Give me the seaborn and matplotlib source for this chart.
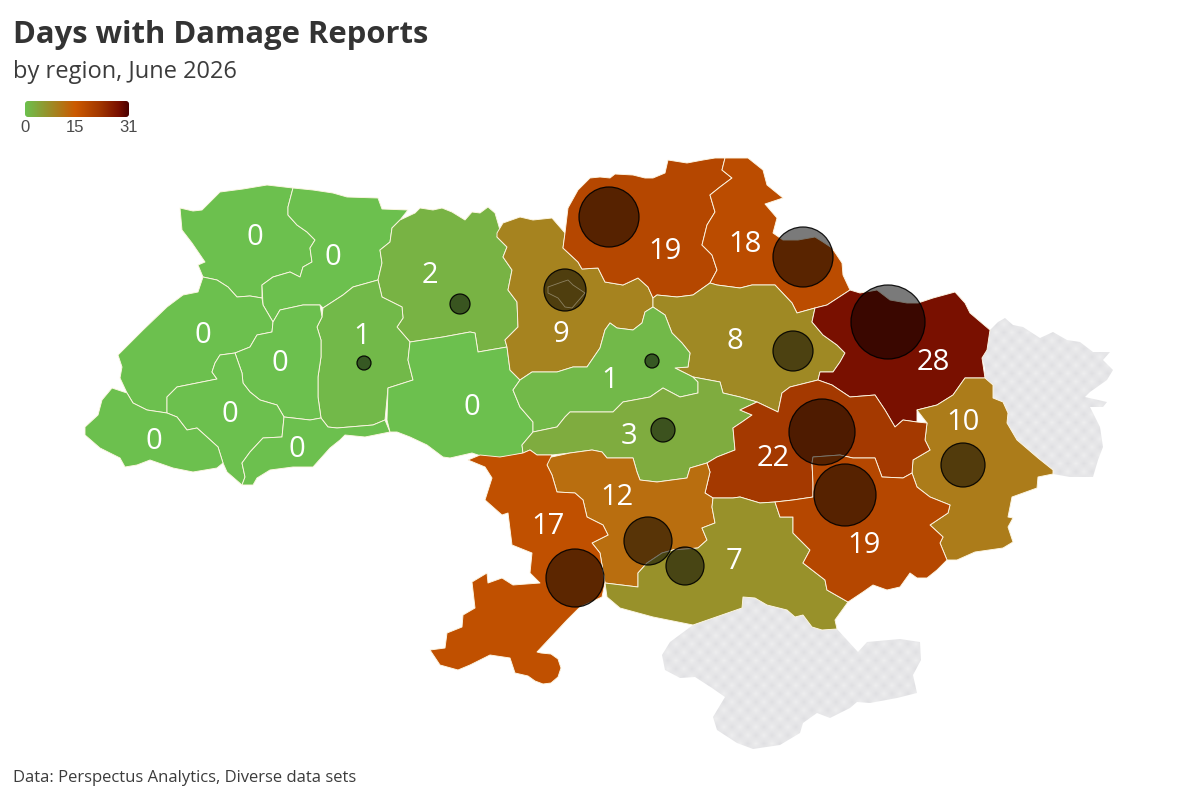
import matplotlib.pyplot as plt
import numpy as np
import pandas as pd
import seaborn as sns
from matplotlib.collections import PolyCollection
from matplotlib.colors import LinearSegmentedColormap, Normalize
from matplotlib.patches import FancyBboxPatch, Polygon

# region data, same order everywhere
region_names = [
    "Volyn", "Rivne", "Zhytomyr", "Lviv", "Khmelnytskyi", "Ternopil",
    "Ivano-Frankivsk", "Zakarpattia", "Chernivtsi", "Vinnytsia", "Kyiv",
    "Chernihiv", "Sumy", "Poltava", "Cherkasy", "Kirovohrad", "Kharkiv",
    "Donetsk", "Dnipropetrovsk", "Mykolaiv", "Odesa", "Kherson", "Zaporizhzhia",
]
damage_days = [0, 0, 2, 0, 1, 0, 0, 0, 0, 0, 9, 19, 18, 8, 1, 3, 28, 10, 22, 12, 17, 7, 19]
label_x = [255, 333, 430, 203, 362, 280, 230, 154, 297, 472, 561, 665, 745, 735, 610, 629, 933, 963, 773, 617, 548, 734, 864]
label_y = [234, 254, 272, 332, 333, 360, 411, 438, 446, 404, 331, 248, 241, 338, 377, 433, 359, 419, 455, 494, 523, 558, 542]

# bubbles, in picture pixels
bubble_x = [609, 803, 888, 565, 793, 652, 364, 460, 663, 822, 845, 963, 648, 685, 575]
bubble_y = [217, 257, 322, 290, 351, 361, 363, 304, 430, 432, 495, 465, 541, 566, 578]
bubble_radius = [30, 30, 37, 21, 20, 7, 7, 10, 12, 33, 31, 22, 24, 19, 29]

# colour scale
scale_ticks = [0, 15, 31]
scale_stops = [0, 15, 22, 28, 31]
scale_colors = ["#6cc04e", "#cc5a00", "#a43900", "#7a1000", "#4a0000"]

# region outlines
volyn = [(180,208),(193,211),(202,210),(220,192),(243,189),(267,185),(293,188),(288,207),(288,215),(297,225),(307,232),(315,240),(310,248),(312,262),(303,267),(300,277),(290,272),(273,277),(262,285),(262,298),(250,296),(237,297),(228,287),(217,280),(203,277),(198,265),(205,262),(192,243),(182,230)]
rivne = [(293,188),(313,190),(333,193),(347,197),(378,198),(382,209),(408,210),(400,220),(392,228),(390,242),(380,250),(382,263),(378,280),(353,287),(343,295),(323,308),(320,305),(303,305),(280,310),(273,322),(263,305),(262,285),(273,277),(290,272),(300,277),(303,267),(312,262),(310,248),(315,240),(307,232),(297,225),(288,215),(288,207)]
zhytomyr = [(400,220),(415,213),(420,208),(433,210),(442,208),(452,212),(465,220),(472,212),(480,213),(488,207),(495,213),(500,230),(497,237),(507,247),(503,257),(512,270),(508,290),(517,302),(518,327),(505,340),(507,347),(478,352),(475,333),(470,332),(443,337),(410,342),(397,327),(403,318),(402,307),(382,297),(378,280),(382,263),(380,250),(390,242),(392,228)]
lviv = [(203,277),(217,280),(228,287),(237,297),(250,296),(262,298),(263,305),(273,322),(272,332),(257,335),(250,347),(235,353),(220,355),(215,363),(212,372),(217,379),(197,383),(177,387),(167,397),(167,413),(147,410),(133,403),(127,393),(120,378),(122,367),(118,355),(143,330),(167,307),(183,295),(198,292)]
khmelnytskyi = [(323,308),(343,295),(353,287),(378,280),(382,297),(402,307),(403,318),(397,327),(410,342),(408,360),(413,380),(388,388),(385,420),(373,425),(337,428),(328,427),(321,418),(318,397),(318,377),(321,357),(321,340),(317,327),(322,317)]
ternopil = [(273,322),(280,310),(303,305),(320,305),(322,317),(317,327),(321,340),(321,357),(318,377),(318,397),(321,418),(310,420),(293,418),(284,417),(277,405),(260,400),(250,392),(243,383),(242,373),(235,353),(250,347),(257,335),(272,332)]
frankivsk = [(235,353),(242,373),(243,383),(250,392),(260,400),(277,405),(284,417),(282,437),(263,438),(250,452),(242,463),(245,477),(242,485),(227,472),(223,463),(218,447),(207,437),(197,428),(187,430),(177,417),(167,413),(167,397),(177,387),(197,383),(217,379),(212,372),(215,363),(220,355)]
zakarpattia = [(112,388),(127,393),(133,403),(147,410),(167,413),(177,417),(187,430),(197,428),(207,437),(218,447),(223,463),(217,468),(193,472),(173,468),(150,460),(137,465),(125,467),(120,458),(100,448),(85,435),(85,427),(98,415),(102,400)]
chernivtsi = [(284,417),(293,418),(310,420),(321,418),(328,427),(337,428),(373,425),(385,420),(390,432),(365,437),(345,435),(340,440),(330,448),(313,467),(293,467),(270,470),(257,478),(253,485),(242,485),(245,477),(242,463),(250,452),(263,438),(282,437)]
vinnytsia = [(410,342),(443,337),(470,332),(475,333),(478,352),(507,347),(510,370),(520,380),(513,390),(520,407),(533,422),(533,432),(522,445),(523,453),(507,457),(487,458),(472,453),(450,458),(443,457),(427,445),(410,437),(397,432),(390,432),(387,420),(388,388),(413,380),(408,360)]
kyiv = [(497,233),(503,223),(520,217),(533,220),(552,218),(565,233),(563,248),(578,262),(582,269),(598,268),(605,282),(623,285),(638,278),(648,287),(653,298),(653,307),(645,312),(642,323),(633,330),(617,328),(610,323),(605,330),(600,348),(587,367),(573,367),(557,372),(543,372),(532,372),(520,380),(510,370),(507,347),(505,340),(518,327),(517,302),(508,290),(512,270),(503,257),(507,247),(497,237)]
chernihiv = [(565,233),(568,208),(578,190),(590,178),(600,177),(610,178),(615,174),(633,175),(645,178),(653,178),(665,173),(668,160),(687,163),(703,160),(715,158),(725,158),(722,170),(732,178),(720,187),(710,195),(715,212),(707,225),(702,245),(712,255),(717,270),(710,283),(693,295),(677,297),(657,295),(653,298),(648,287),(638,278),(623,285),(605,282),(598,268),(582,269),(578,262),(563,248)]
sumy = [(725,158),(748,158),(763,170),(767,185),(783,198),(765,204),(777,218),(773,233),(783,240),(798,240),(815,237),(823,242),(832,248),(842,263),(843,275),(850,290),(827,305),(815,308),(797,313),(792,303),(775,285),(752,285),(740,288),(717,285),(710,283),(717,270),(712,255),(702,245),(707,225),(715,212),(710,195),(720,187),(732,178),(722,170)]
poltava = [(653,298),(657,295),(677,297),(693,295),(710,283),(717,285),(740,288),(752,285),(775,285),(792,303),(797,313),(815,308),(812,322),(823,335),(837,345),(845,353),(840,362),(833,372),(820,372),(818,380),(790,387),(782,393),(778,412),(757,402),(740,397),(723,393),(720,382),(693,377),(675,368),(688,367),(690,353),(682,343),(672,333),(665,315),(653,307)]
cherkasy = [(653,307),(665,315),(672,333),(682,343),(690,353),(688,367),(675,368),(693,377),(698,382),(698,393),(680,397),(663,388),(650,397),(623,402),(613,412),(570,412),(565,417),(557,427),(533,432),(533,422),(520,407),(513,390),(520,380),(532,372),(543,372),(557,372),(573,367),(587,367),(600,348),(605,330),(610,323),(617,328),(633,330),(642,323),(645,312)]
kirovohrad = [(533,432),(557,427),(565,417),(570,412),(613,412),(623,402),(650,397),(663,388),(680,397),(698,393),(698,382),(693,377),(720,382),(723,393),(740,397),(757,402),(740,410),(752,415),(742,422),(733,428),(735,450),(717,457),(707,463),(690,468),(687,478),(657,482),(640,480),(637,472),(633,458),(607,458),(602,452),(592,450),(570,453),(552,455),(537,455),(530,450),(523,453),(522,445)]
kharkiv = [(812,322),(815,308),(827,305),(850,290),(860,293),(877,290),(890,300),(907,303),(918,303),(933,298),(955,292),(965,303),(970,313),(990,330),(987,350),(982,358),(985,378),(965,378),(953,395),(937,405),(917,410),(917,422),(903,420),(895,427),(885,410),(875,395),(850,397),(832,385),(818,380),(820,372),(833,372),(840,362),(845,353),(837,345),(823,335)]
donetsk = [(965,378),(985,378),(993,385),(993,398),(1003,402),(1008,413),(1007,423),(1017,440),(1038,458),(1053,470),(1053,474),(1038,477),(1037,488),(1012,497),(1008,517),(1013,518),(1008,527),(1013,542),(1003,548),(975,552),(957,560),(947,560),(940,543),(943,537),(930,525),(948,513),(950,505),(930,497),(917,487),(912,473),(913,460),(930,450),(925,440),(927,423),(917,410),(937,405),(953,395)]
dnipro = [(778,412),(782,393),(790,387),(818,380),(832,385),(850,397),(875,395),(885,410),(895,427),(903,420),(917,422),(927,423),(925,440),(930,450),(913,460),(912,473),(903,478),(882,477),(875,458),(853,458),(840,455),(813,457),(812,463),(813,483),(813,497),(793,500),(775,502),(760,503),(740,497),(733,498),(713,498),(705,493),(710,472),(707,463),(717,457),(735,450),(733,428),(742,422),(752,415),(740,410),(757,402)]
mykolaiv = [(547,458),(570,453),(592,450),(602,452),(607,458),(633,458),(637,472),(640,480),(657,482),(687,478),(690,468),(707,463),(710,472),(705,493),(713,498),(712,507),(715,523),(702,528),(707,540),(698,548),(673,550),(662,553),(647,563),(638,573),(638,587),(605,583),(600,553),(592,543),(608,535),(603,525),(587,517),(583,500),(575,493),(557,492),(552,475),(547,465)]
odesa = [(468,460),(480,455),(500,457),(523,453),(530,450),(537,455),(552,455),(547,465),(552,475),(557,492),(575,493),(583,500),(587,517),(603,525),(608,535),(592,543),(600,553),(605,583),(602,597),(580,607),(567,620),(537,652),(541,653),(551,654),(558,659),(561,668),(558,677),(551,683),(543,684),(535,681),(528,676),(515,673),(510,658),(490,655),(470,665),(458,670),(440,665),(430,650),(445,648),(447,633),(462,627),(463,615),(475,608),(472,582),(487,573),(488,583),(502,578),(513,585),(540,583),(530,573),(532,553),(512,545),(508,513),(502,515),(485,500),(492,478),(485,467)]
kherson = [(605,583),(638,587),(638,573),(647,563),(662,553),(673,550),(698,548),(707,540),(702,528),(715,523),(712,507),(713,498),(733,498),(740,497),(760,503),(775,502),(780,517),(793,517),(793,533),(810,550),(803,563),(825,580),(827,590),(848,602),(835,620),(837,629),(822,630),(812,627),(803,615),(795,617),(787,610),(767,605),(755,598),(743,597),(742,608),(693,625),(653,617),(620,608),(607,597)]
zaporizhzhia = [(775,502),(793,500),(813,497),(813,483),(812,463),(813,457),(840,455),(853,458),(875,458),(882,477),(903,478),(912,473),(917,487),(930,497),(950,505),(948,513),(930,525),(943,537),(940,543),(947,560),(937,570),(927,578),(917,578),(910,573),(900,587),(887,590),(873,585),(863,592),(848,602),(827,590),(825,580),(803,563),(810,550),(793,533),(793,517),(780,517)]

# areas without data
crimea = [(743,597),(755,598),(767,605),(787,610),(795,617),(803,615),(812,627),(822,630),(837,629),(847,640),(858,652),(867,642),(900,639),(920,642),(921,660),(913,675),(917,693),(897,698),(870,703),(857,702),(850,708),(830,718),(817,713),(803,723),(800,733),(780,745),(753,749),(737,743),(717,730),(713,717),(725,697),(712,688),(695,677),(680,678),(665,670),(662,655),(670,642),(693,625),(742,608)]
luhansk = [(982,358),(987,350),(990,330),(998,322),(1005,318),(1013,325),(1023,327),(1040,338),(1053,332),(1067,340),(1080,342),(1093,352),(1110,352),(1103,360),(1113,370),(1107,380),(1090,392),(1085,397),(1107,402),(1103,407),(1090,407),(1100,427),(1103,447),(1098,460),(1093,477),(1070,477),(1053,474),(1053,470),(1038,458),(1017,440),(1007,423),(1008,413),(1003,402),(993,398),(993,385),(985,378),(985,368)]
kyiv_city = [(548,287),(562,282),(568,280),(573,285),(585,293),(572,308),(565,307),(558,298),(548,293)]

region_outlines = [
    volyn, rivne, zhytomyr, lviv, khmelnytskyi, ternopil, frankivsk, zakarpattia,
    chernivtsi, vinnytsia, kyiv, chernihiv, sumy, poltava, cherkasy, kirovohrad,
    kharkiv, donetsk, dnipro, mykolaiv, odesa, kherson, zaporizhzhia,
]

sns.set_theme(style="white")
plt.rcParams["font.family"] = ["Open Sans", "DejaVu Sans"]

fig = plt.figure(figsize=(12, 8), dpi=100)
ax = fig.add_axes([0, 0, 1, 1])
ax.set_xlim(0, 1200)
ax.set_ylim(800, 0)
ax.axis("off")

# checker texture for the areas without data
cols, rows = np.meshgrid(np.arange(60), np.arange(30))
checker = ((cols + rows) % 2).astype(float)
checker_cmap = LinearSegmentedColormap.from_list("checker", ["#eeeeef", "#dfdfe2"])
for outline, extent in [(crimea, (656, 928, 756, 590)), (luhansk, (976, 1120, 484, 312))]:
    n_cols = int((extent[1] - extent[0]) / 8)
    n_rows = int((extent[2] - extent[3]) / 8)
    im = ax.imshow(checker[:n_rows, :n_cols], extent=extent, cmap=checker_cmap,
                   interpolation="bilinear", aspect="auto", zorder=1)
    clip = Polygon(outline, transform=ax.transData, facecolor="none", edgecolor="none")
    ax.add_patch(clip)
    im.set_clip_path(clip)
ax.set_xlim(0, 1200)
ax.set_ylim(800, 0)

# regions, coloured through the scale
norm = Normalize(scale_stops[0], scale_stops[-1])
day_cmap = LinearSegmentedColormap.from_list(
    "days", [(norm(s), c) for s, c in zip(scale_stops, scale_colors)]
)
regions = PolyCollection(region_outlines, array=np.array(damage_days, dtype=float),
                         cmap=day_cmap, norm=norm, edgecolor="#fdf6e3", linewidth=0.65, zorder=2)
ax.add_collection(regions)

# bubbles
bubbles = pd.DataFrame({"x": bubble_x, "y": bubble_y, "radius": bubble_radius})
bubbles["s"] = (bubbles["radius"] * 2 * 0.72) ** 2
sns.scatterplot(data=bubbles, x="x", y="y", s=bubbles["s"].to_numpy(), color="black",
                ax=ax, zorder=3, legend=False)
pts = ax.collections[-1]
pts.set_alpha(None)
pts.set_facecolor((0, 0, 0, 0.52))
pts.set_edgecolor((0, 0, 0, 0.9))
pts.set_linewidth(0.9)
ax.set_xlabel("")
ax.set_ylabel("")

ax.add_patch(Polygon(kyiv_city, facecolor="none", edgecolor="#ffffff", alpha=0.35, linewidth=0.6, zorder=4))

for name, days, x, y in zip(region_names, damage_days, label_x, label_y):
    ax.text(x, y, str(days), color="white", fontsize=21, ha="center", va="center_baseline", zorder=5)

# colour legend
gradient = np.linspace(0, 1, 256).reshape(1, -1)
bar = ax.imshow(gradient, extent=(25, 129, 117, 101), cmap=day_cmap, aspect="auto", zorder=5)
bar_clip = FancyBboxPatch((25, 101), 104, 16, boxstyle="round,pad=0,rounding_size=3",
                          transform=ax.transData, facecolor="none", edgecolor="none")
ax.add_patch(bar_clip)
bar.set_clip_path(bar_clip)
ax.set_xlim(0, 1200)
ax.set_ylim(800, 0)
for tick in scale_ticks:
    ax.text(25 + 104 * norm(tick), 132, str(tick), color="#4a4a4a", fontsize=12,
            family=["Liberation Sans"], ha="center", va="baseline")

ax.text(13, 43, "Days with Damage Reports", color="#333333", fontsize=22.3, fontweight="bold",
        ha="left", va="baseline")
ax.text(13, 78, "by region, June 2026", color="#3c3c3c", fontsize=17, ha="left", va="baseline")
ax.text(13, 782, "Data: Perspectus Analytics, Diverse data sets", color="#3c3c3c", fontsize=12,
        ha="left", va="baseline")

fig.savefig("out.png", dpi=100)
